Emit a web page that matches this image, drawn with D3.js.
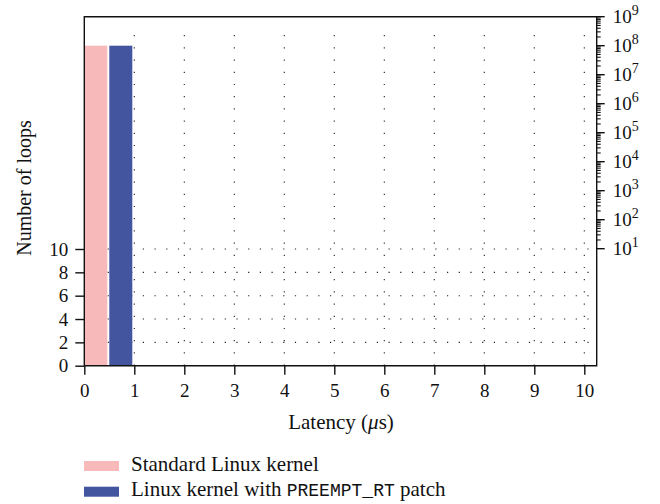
<!DOCTYPE html>
<html><head><meta charset="utf-8">
<script src="https://cdn.jsdelivr.net/npm/d3@7"></script>
<style>body{margin:0;background:#fff}svg{display:block}</style>
</head><body>
<svg id="c" width="660" height="504"></svg>
<script>
const binStarts = [0, 0.5];
const standardLoops = [100000000, 0];
const preemptLoops = [0, 100000000];
const seriesNames = ["Standard Linux kernel", "Linux kernel with PREEMPT_RT patch"];
const seriesColors = ["#f7b9b9", "#4455a0"];
const xTicks = [0,1,2,3,4,5,6,7,8,9,10];
const yLinTicks = [0,2,4,6,8,10];
const yLogExps = [1,2,3,4,5,6,7,8,9];

const svg = d3.select("#c");
const font = "'Liberation Serif', 'DejaVu Serif', serif";
const L = 84.3, R = 596.7, T = 16.7, B = 365.7;
const x = d3.scaleLinear().domain([0, 10]).range([L, 584.3]);
const yLin = d3.scaleLinear().domain([0, 10]).range([B, 249]);
const yLog = d3.scaleLog().domain([10, 1e9]).range([248.7, T]);
const binW = 0.46;

// grid
const g = svg.append("g");
g.selectAll("line.v").data(xTicks.filter(d => d > 0)).join("line")
  .attr("x1", d => x(d)).attr("x2", d => x(d)).attr("y1", B).attr("y2", T + 8)
  .attr("stroke", "#222").attr("stroke-width", 1.1).attr("stroke-dasharray", "1.2,11");
g.selectAll("line.h").data(yLinTicks.filter(d => d > 0)).join("line")
  .attr("x1", L).attr("x2", R - 4).attr("y1", d => yLin(d)).attr("y2", d => yLin(d))
  .attr("stroke", "#222").attr("stroke-width", 1.1).attr("stroke-dasharray", "1.2,10.5");

// bars
[standardLoops, preemptLoops].forEach((vals, si) => {
  svg.append("g").selectAll("rect").data(binStarts.map((b, i) => ({b, v: vals[i]})).filter(d => d.v > 0))
    .join("rect")
    .attr("x", d => x(d.b)).attr("width", d => x(d.b + binW) - x(d.b))
    .attr("y", d => yLog(d.v)).attr("height", d => B - yLog(d.v))
    .attr("fill", seriesColors[si]);
});

// frame
svg.append("path").attr("d", `M${L},${B}V${T}H${R}V${B}H${L}`)
  .attr("fill", "none").attr("stroke", "#111").attr("stroke-width", 1.4);

// x axis
const xa = svg.append("g").attr("transform", `translate(0,${B})`)
  .call(d3.axisBottom(x).tickValues(xTicks).tickSize(9).tickPadding(8.5).tickFormat(d3.format("d")));
xa.select(".domain").remove();
xa.selectAll("line").attr("stroke", "#111").attr("stroke-width", 1.4);
xa.selectAll("text").attr("font-family", font).attr("font-size", 19).attr("fill", "#111");

// left axis
const ya = svg.append("g").attr("transform", `translate(${L},0)`)
  .call(d3.axisLeft(yLin).tickValues(yLinTicks).tickSize(9).tickPadding(7).tickFormat(d3.format("d")));
ya.select(".domain").remove();
ya.selectAll("line").attr("stroke", "#111").attr("stroke-width", 1.4);
ya.selectAll("text").attr("font-family", font).attr("font-size", 19).attr("fill", "#111");

// right log axis
const minor = [];
yLogExps.forEach(e => { if (e < 9) for (let k = 2; k <= 9; k++) minor.push(k * Math.pow(10, e)); });
svg.append("g").selectAll("line").data(minor).join("line")
  .attr("x1", R).attr("x2", R + 4).attr("y1", d => yLog(d)).attr("y2", d => yLog(d))
  .attr("stroke", "#111").attr("stroke-width", 1.1);
const ra = svg.append("g").attr("transform", `translate(${R},0)`);
ra.selectAll("line").data(yLogExps).join("line")
  .attr("x1", 0).attr("x2", 8).attr("y1", e => yLog(Math.pow(10, e))).attr("y2", e => yLog(Math.pow(10, e)))
  .attr("stroke", "#111").attr("stroke-width", 1.4);
const lt = ra.selectAll("text").data(yLogExps).join("text")
  .attr("x", 16).attr("y", e => yLog(Math.pow(10, e)) + 6.5)
  .attr("font-family", font).attr("font-size", 19).attr("fill", "#111");
lt.append("tspan").text("10");
lt.append("tspan").attr("dy", -8.5).attr("font-size", 14).text(e => e);

// axis titles
svg.append("text").attr("x", 341).attr("y", 429).attr("text-anchor", "middle")
  .attr("font-family", font).attr("font-size", 21).attr("fill", "#111")
  .html('Latency (<tspan font-style="italic">μ</tspan>s)');
svg.append("text").attr("transform", "translate(31,188) rotate(-90)").attr("text-anchor", "middle")
  .attr("font-family", font).attr("font-size", 20).attr("fill", "#111").text("Number of loops");

// legend
const lg = svg.append("g");
seriesNames.forEach((n, i) => {
  const yy = 461 + i * 25.7;
  lg.append("rect").attr("x", 84).attr("y", yy).attr("width", 35).attr("height", 10).attr("fill", seriesColors[i]);
  const t = lg.append("text").attr("x", 131).attr("y", yy + 9.5)
    .attr("font-family", font).attr("font-size", 21).attr("fill", "#111");
  if (n.includes("PREEMPT_RT")) {
    const parts = n.split("PREEMPT_RT");
    t.append("tspan").text(parts[0]);
    t.append("tspan").attr("font-family", "'Liberation Mono', 'DejaVu Sans Mono', monospace").attr("font-size", 18).text("PREEMPT_RT");
    t.append("tspan").text(parts[1]);
  } else t.text(n);
});
</script>
</body></html>
